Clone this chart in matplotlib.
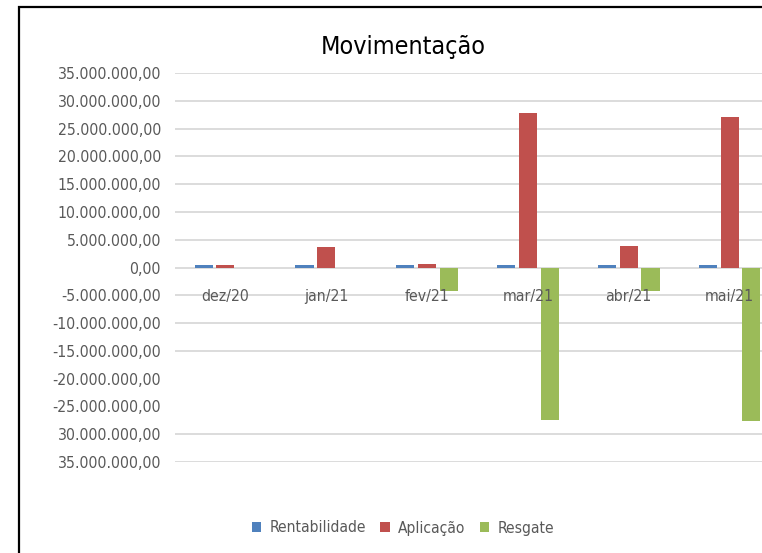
import numpy as np
import matplotlib.pyplot as plt
from matplotlib.patches import Rectangle

plt.rcParams['font.family'] = ['DejaVu Sans']
plt.rcParams['font.stretch'] = 'condensed'

meses = ['dez/20', 'jan/21', 'fev/21', 'mar/21', 'abr/21', 'mai/21']
rentabilidade = [380000, 370000, 390000, 380000, 400000, 390000]
aplicacao = [420000, 3600000, 600000, 27800000, 3850000, 27100000]
resgate = [0, 0, -4300000, -27400000, -4150000, -27600000]

tick_vals = [35e6, 30e6, 25e6, 20e6, 15e6, 10e6, 5e6, 0, -5e6, -10e6, -15e6, -20e6, -25e6, -30e6, -35e6]
tick_labels = ['35.000.000,00', '30.000.000,00', '25.000.000,00', '20.000.000,00', '15.000.000,00',
               '10.000.000,00', '5.000.000,00', '0,00', '-5.000.000,00', '-10.000.000,00',
               '-15.000.000,00', '-20.000.000,00', '-25.000.000,00', '30.000.000,00', '35.000.000,00']
# gridlines that are visible in the picture
grid_vals = [35e6, 30e6, 25e6, 20e6, 15e6, 10e6, 5e6, 0, -5e6, -10e6, -15e6, -30e6, -35e6]

cores = {'Rentabilidade': '#4f81bd', 'Aplicação': '#c0504d', 'Resgate': '#9bbb59'}
label_color = '#595959'

W, H = 762, 553
fig = plt.figure(figsize=(W / 100, H / 100), dpi=100)

# chart frame (cut off on the right and bottom)
fig.patches.append(Rectangle((19 / W, -0.1), 1.2, 1 - 7 / H + 0.1, transform=fig.transFigure,
                             fill=False, edgecolor='black', linewidth=1.6))

ax = fig.add_axes([175 / W, 1 - 462 / H, 605 / W, (462 - 73) / H])

x = np.arange(len(meses))
w = 0.18
off = 0.215
ax.bar(x - off, rentabilidade, w, color=cores['Rentabilidade'], label='Rentabilidade', zorder=3)
ax.bar(x, aplicacao, w, color=cores['Aplicação'], label='Aplicação', zorder=3)
ax.bar(x + off, resgate, w, color=cores['Resgate'], label='Resgate', zorder=3)

ax.set_xlim(-0.5, len(meses) - 0.5)
ax.set_ylim(-35e6, 35e6)
for g in grid_vals:
    ax.axhline(g, color='#d9d9d9', linewidth=1.3, zorder=1)

for s in ax.spines.values():
    s.set_visible(False)

ax.set_yticks(tick_vals)
ax.set_yticklabels(tick_labels)
ax.tick_params(axis='y', length=0, pad=10, labelsize=11.3, labelcolor=label_color)

ax.set_xticks([])
for i, m in enumerate(meses):
    ax.text(i, -5.2e6, m, ha='center', va='center', fontsize=11.3, color=label_color, zorder=4)

fig.text(403 / W, 1 - 47 / H, 'Movimentação', ha='center', va='center', fontsize=18, color='black')

leg = fig.legend(loc='center', bbox_to_anchor=(403 / W, 1 - 528 / H), ncol=3, frameon=False,
                 fontsize=11.2, handlelength=0.6, handleheight=0.6, handletextpad=0.55,
                 columnspacing=0.9)
for t in leg.get_texts():
    t.set_color(label_color)

fig.savefig('out.png', dpi=100)
